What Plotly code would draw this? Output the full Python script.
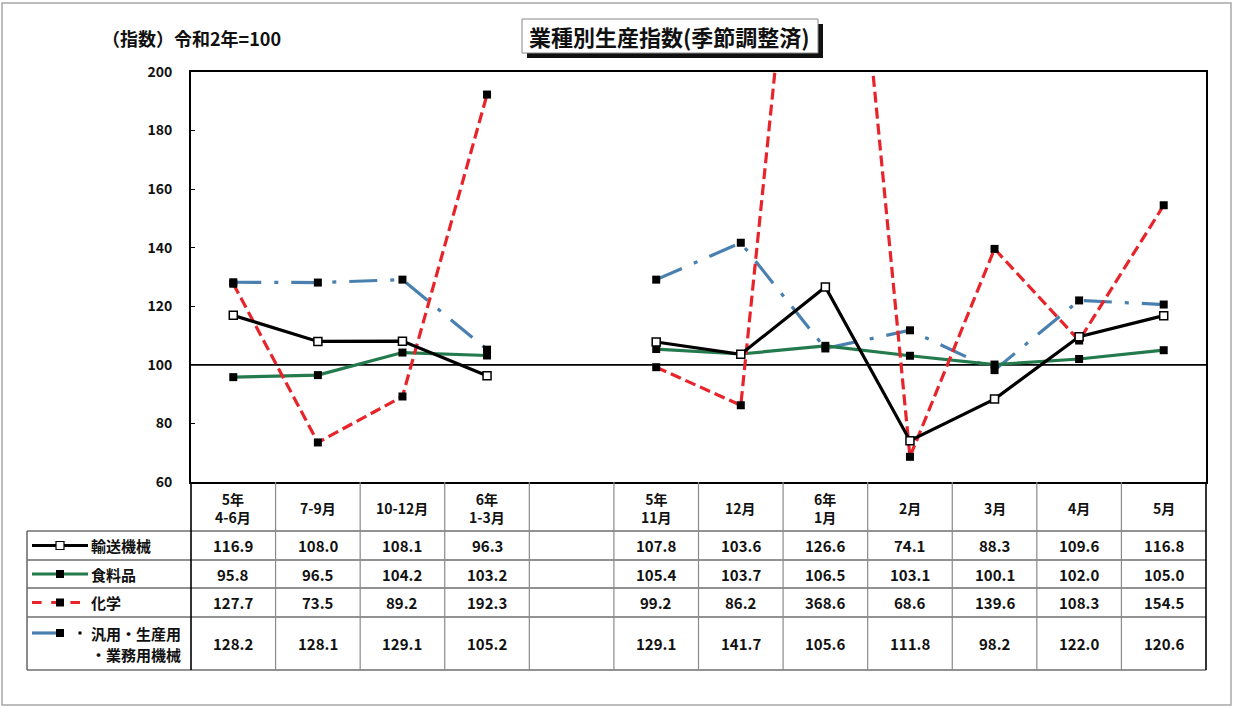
import plotly.graph_objects as go

# ---- data -------------------------------------------------------------
columns = ["5年<br>4-6月", "7-9月", "10-12月", "6年<br>1-3月", "",
           "5年<br>11月", "12月", "6年<br>1月", "2月", "3月", "4月", "5月"]

transport = [116.9, 108.0, 108.1, 96.3, None, 107.8, 103.6, 126.6, 74.1, 88.3, 109.6, 116.8]
food = [95.8, 96.5, 104.2, 103.2, None, 105.4, 103.7, 106.5, 103.1, 100.1, 102.0, 105.0]
chemical = [127.7, 73.5, 89.2, 192.3, None, 99.2, 86.2, 368.6, 68.6, 139.6, 108.3, 154.5]
machinery = [128.2, 128.1, 129.1, 105.2, None, 129.1, 141.7, 105.6, 111.8, 98.2, 122.0, 120.6]

series_names = ["輸送機械", "食料品", "化学", "汎用・生産用<br>・業務用機械"]
y_ticks = [60, 80, 100, 120, 140, 160, 180, 200]

title_text = "業種別生産指数(季節調整済)"
unit_text = "（指数）令和2年=100"

# ---- geometry (pixels) ------------------------------------------------
W, H = 1233, 708
PL, PR, PT, PB = 191, 1206, 72, 482          # plot area
TL = 27                                        # table left edge
ROWS = [482, 531, 560, 588, 617, 670]          # table row boundaries
FONT = "Noto Sans CJK JP"

def fx(px):
    return px / W

def fy(py):
    return 1 - py / H

n = len(columns)
cw = (PR - PL) / n
x_idx = list(range(n))

BLACK = "#000000"
GREEN = "#237a4c"
RED = "#e8242b"
BLUE = "#4a80b0"

fig = go.Figure()

styles = [
    dict(data=transport, color=BLACK, dash="solid", width=3.2,
         marker=dict(symbol="square", size=8, color="white", line=dict(color=BLACK, width=1.5))),
    dict(data=food, color=GREEN, dash="solid", width=3.2,
         marker=dict(symbol="square", size=8, color=BLACK)),
    dict(data=chemical, color=RED, dash="11px,5px", width=3.2,
         marker=dict(symbol="square", size=8, color=BLACK)),
    dict(data=machinery, color=BLUE, dash="28px,13px,4px,13px", width=3.2,
         marker=dict(symbol="square", size=8, color=BLACK)),
]

# draw order: machinery underneath, then food, chemical, transport
for idx in [3, 1, 2, 0]:
    s = styles[idx]
    fig.add_trace(go.Scatter(
        x=x_idx, y=s["data"], mode="lines+markers",
        line=dict(color=s["color"], width=s["width"], dash=s["dash"]),
        marker=s["marker"], connectgaps=False, showlegend=False,
        cliponaxis=True, name=series_names[idx].replace("<br>", ""),
    ))

shapes = []
annotations = []

# outer frame
shapes.append(dict(type="rect", xref="paper", yref="paper",
                   x0=fx(2), x1=fx(1231), y0=fy(705), y1=fy(3),
                   line=dict(color="#a8a8a8", width=1.5), layer="below"))

# reference line at 100
shapes.append(dict(type="line", xref="paper", yref="y",
                   x0=fx(PL), x1=fx(PR), y0=100, y1=100,
                   line=dict(color=BLACK, width=1.6), layer="below"))

# title box with drop shadow
shapes.append(dict(type="rect", xref="paper", yref="paper",
                   x0=fx(527), x1=fx(823), y0=fy(58), y1=fy(24),
                   fillcolor="#111111", line=dict(width=0)))
shapes.append(dict(type="rect", xref="paper", yref="paper",
                   x0=fx(522), x1=fx(818), y0=fy(53), y1=fy(19),
                   fillcolor="white", line=dict(color="#888888", width=1)))
annotations.append(dict(xref="paper", yref="paper", x=fx(669), y=fy(36),
                        text=title_text, showarrow=False, xanchor="center", yanchor="middle",
                        font=dict(family=FONT, size=22, color="#111111", weight="bold")))

# unit label
annotations.append(dict(xref="paper", yref="paper", x=fx(100), y=fy(38),
                        text=unit_text, showarrow=False, xanchor="left", yanchor="middle",
                        font=dict(family=FONT, size=18, color="#111111", weight="bold")))

# ---- data table -------------------------------------------------------
GRID = "#6e6e6e"
for r in ROWS[1:]:
    shapes.append(dict(type="line", xref="paper", yref="paper",
                       x0=fx(TL), x1=fx(PR), y0=fy(r), y1=fy(r),
                       line=dict(color=GRID, width=1.6)))
shapes.append(dict(type="line", xref="paper", yref="paper",
                   x0=fx(TL), x1=fx(TL), y0=fy(ROWS[1]), y1=fy(ROWS[-1]),
                   line=dict(color=GRID, width=1.6)))
for i in range(n + 1):
    xp = PL + i * cw
    edge = i in (0, n)
    shapes.append(dict(type="line", xref="paper", yref="paper",
                       x0=fx(xp), x1=fx(xp), y0=fy(ROWS[0]), y1=fy(ROWS[-1]),
                       line=dict(color=BLACK if edge else "#8a8a8a",
                                 width=1.6 if edge else 1.2)))

# column headers
for i, lab in enumerate(columns):
    if lab:
        annotations.append(dict(xref="paper", yref="paper",
                                x=fx(PL + (i + 0.5) * cw), y=fy((ROWS[0] + ROWS[1]) / 2 + 1),
                                text=lab, showarrow=False, xanchor="center", yanchor="middle",
                                font=dict(family=FONT, size=14, color="#111111", weight="bold")))

# value cells
all_data = [transport, food, chemical, machinery]
for r, vals in enumerate(all_data):
    yc = (ROWS[r + 1] + ROWS[r + 2]) / 2
    for i, v in enumerate(vals):
        if v is None:
            continue
        annotations.append(dict(xref="paper", yref="paper",
                                x=fx(PL + (i + 0.5) * cw), y=fy(yc),
                                text=f"{v:.1f}", showarrow=False, xanchor="center", yanchor="middle",
                                font=dict(family=FONT, size=15, color="#111111", weight="bold")))

# row labels with line samples
LX0, LX1, MX = 32, 88, 60
label_font = dict(family=FONT, size=15, color="#111111", weight="bold")
for r, name in enumerate(series_names):
    s = styles[r]
    yc = (ROWS[r + 1] + ROWS[r + 2]) / 2
    if r == 3:
        ys = 633
        shapes.append(dict(type="line", xref="paper", yref="paper",
                           x0=fx(LX0), x1=fx(MX), y0=fy(ys), y1=fy(ys),
                           line=dict(color=s["color"], width=3.2)))
        shapes.append(dict(type="rect", xref="paper", yref="paper",
                           x0=fx(78.5), x1=fx(81.5), y0=fy(ys + 1.5), y1=fy(ys - 1.5),
                           fillcolor=BLACK, line=dict(width=0)))
    else:
        ys = yc
        shapes.append(dict(type="line", xref="paper", yref="paper",
                           x0=fx(LX0), x1=fx(LX1), y0=fy(ys), y1=fy(ys),
                           line=dict(color=s["color"], width=3.2,
                                     dash="dash" if r == 2 else "solid")))
    m = s["marker"]
    shapes.append(dict(type="rect", xref="paper", yref="paper",
                       x0=fx(MX - 4), x1=fx(MX + 4), y0=fy(ys + 4), y1=fy(ys - 4),
                       fillcolor=m["color"],
                       line=dict(color=BLACK, width=1.2 if m["color"] == "white" else 0)))
    parts = name.split("<br>")
    if len(parts) == 1:
        annotations.append(dict(xref="paper", yref="paper", x=fx(89), y=fy(yc),
                                text=name, showarrow=False, xanchor="left", yanchor="middle",
                                font=label_font))
    else:
        for k, part in enumerate(parts):
            annotations.append(dict(xref="paper", yref="paper", x=fx(183), y=fy(633 + k * 21),
                                    text=part, showarrow=False, xanchor="right", yanchor="middle",
                                    font=label_font))

fig.update_layout(
    width=W, height=H,
    margin=dict(l=0, r=0, t=0, b=0, autoexpand=False),
    paper_bgcolor="white", plot_bgcolor="white",
    shapes=shapes, annotations=annotations,
    xaxis=dict(domain=[fx(PL), fx(PR)], range=[-0.5, n - 0.5], automargin=False,
               showticklabels=False, showgrid=False, zeroline=False,
               showline=True, mirror=True, linecolor=BLACK, linewidth=2, ticks=""),
    yaxis=dict(domain=[fy(PB), fy(PT)], range=[60, 200], automargin=False,
               tickvals=y_ticks, ticktext=[str(t) for t in y_ticks],
               showgrid=False, zeroline=False,
               showline=True, mirror=True, linecolor=BLACK, linewidth=2,
               ticks="inside", ticklen=4, tickcolor=BLACK, ticklabelstandoff=14,
               tickfont=dict(family=FONT, size=14, color="#111111", weight="bold")),
)

fig.write_html("out.html")
